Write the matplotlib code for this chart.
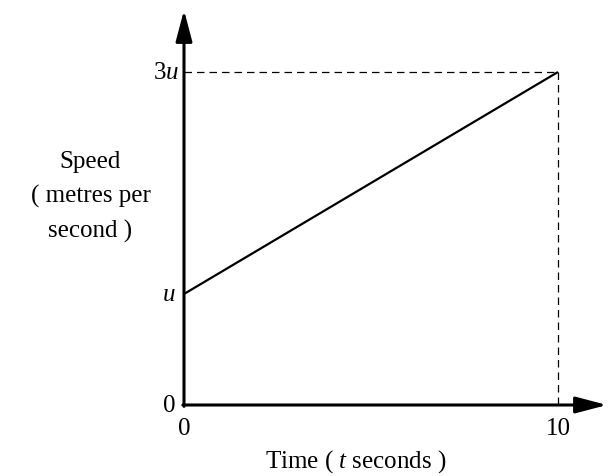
import matplotlib
matplotlib.use('Agg')
import matplotlib.pyplot as plt

plt.rcParams['font.family'] = ['Liberation Serif', 'DejaVu Serif']
plt.rcParams['mathtext.fontset'] = 'custom'
plt.rcParams['mathtext.rm'] = 'Liberation Serif'
plt.rcParams['mathtext.it'] = 'Liberation Serif:italic'

# data (speed in units of u)
time = [0, 10]
speed = [1, 3]
t_end = 10
v_end = 3
y_ticks = [0, 1, 3]
y_labels = ['0', '$u$', '3$u$']
x_ticks = [0, 10]
x_labels = ['0', '10']

fig = plt.figure(figsize=(6.08, 4.77), dpi=100)
ax = fig.add_axes([0, 0, 1, 1])
# pixel mapping: x 0->184px, 10->558px ; y 0->406px, 3->73px
sx = (558 - 184) / 10.0
sy = (406 - 73) / 3.0
ax.set_xlim(-184 / sx, (608 - 184) / sx)
ax.set_ylim(-(477 - 406) / sy, 406 / sy)
ax.axis('off')

# axes with arrows
arr = dict(arrowstyle='-|>,head_length=1.9,head_width=0.5', lw=2.2,
           color='black', mutation_scale=10, shrinkA=0, shrinkB=0)
ax.annotate('', xy=(0, (406 - 11) / sy), xytext=(0, -0.012), arrowprops=arr)
ax.annotate('', xy=((607 - 184) / sx, 0), xytext=(-0.03, 0), arrowprops=arr)

# the speed line
ax.plot(time, speed, color='black', lw=1.6, solid_capstyle='butt')

# dashed guides
ax.plot([0, t_end], [v_end, v_end], color='black', lw=0.9, ls=(0, (6, 4)))
ax.plot([t_end, t_end], [v_end, 0], color='black', lw=0.9, ls=(0, (6, 4)))

fs = 18
for v, lab in zip(y_ticks, y_labels):
    dx = -0.12 if v == 3 else -0.22
    ax.text(dx, v, lab, ha='right', va='center', fontsize=fs)
for t, lab in zip(x_ticks, x_labels):
    ax.text(t, -0.11, lab, ha='center', va='top', fontsize=fs)

ax.text(2.17, -0.5, 'Time ( $t$ seconds )', ha='left', va='center', fontsize=fs)
ax.text(-2.5, 1.88, 'Speed\n( metres per\nsecond )', ha='center', va='center',
        fontsize=fs, linespacing=1.68)

fig.savefig('out.png', dpi=100)
